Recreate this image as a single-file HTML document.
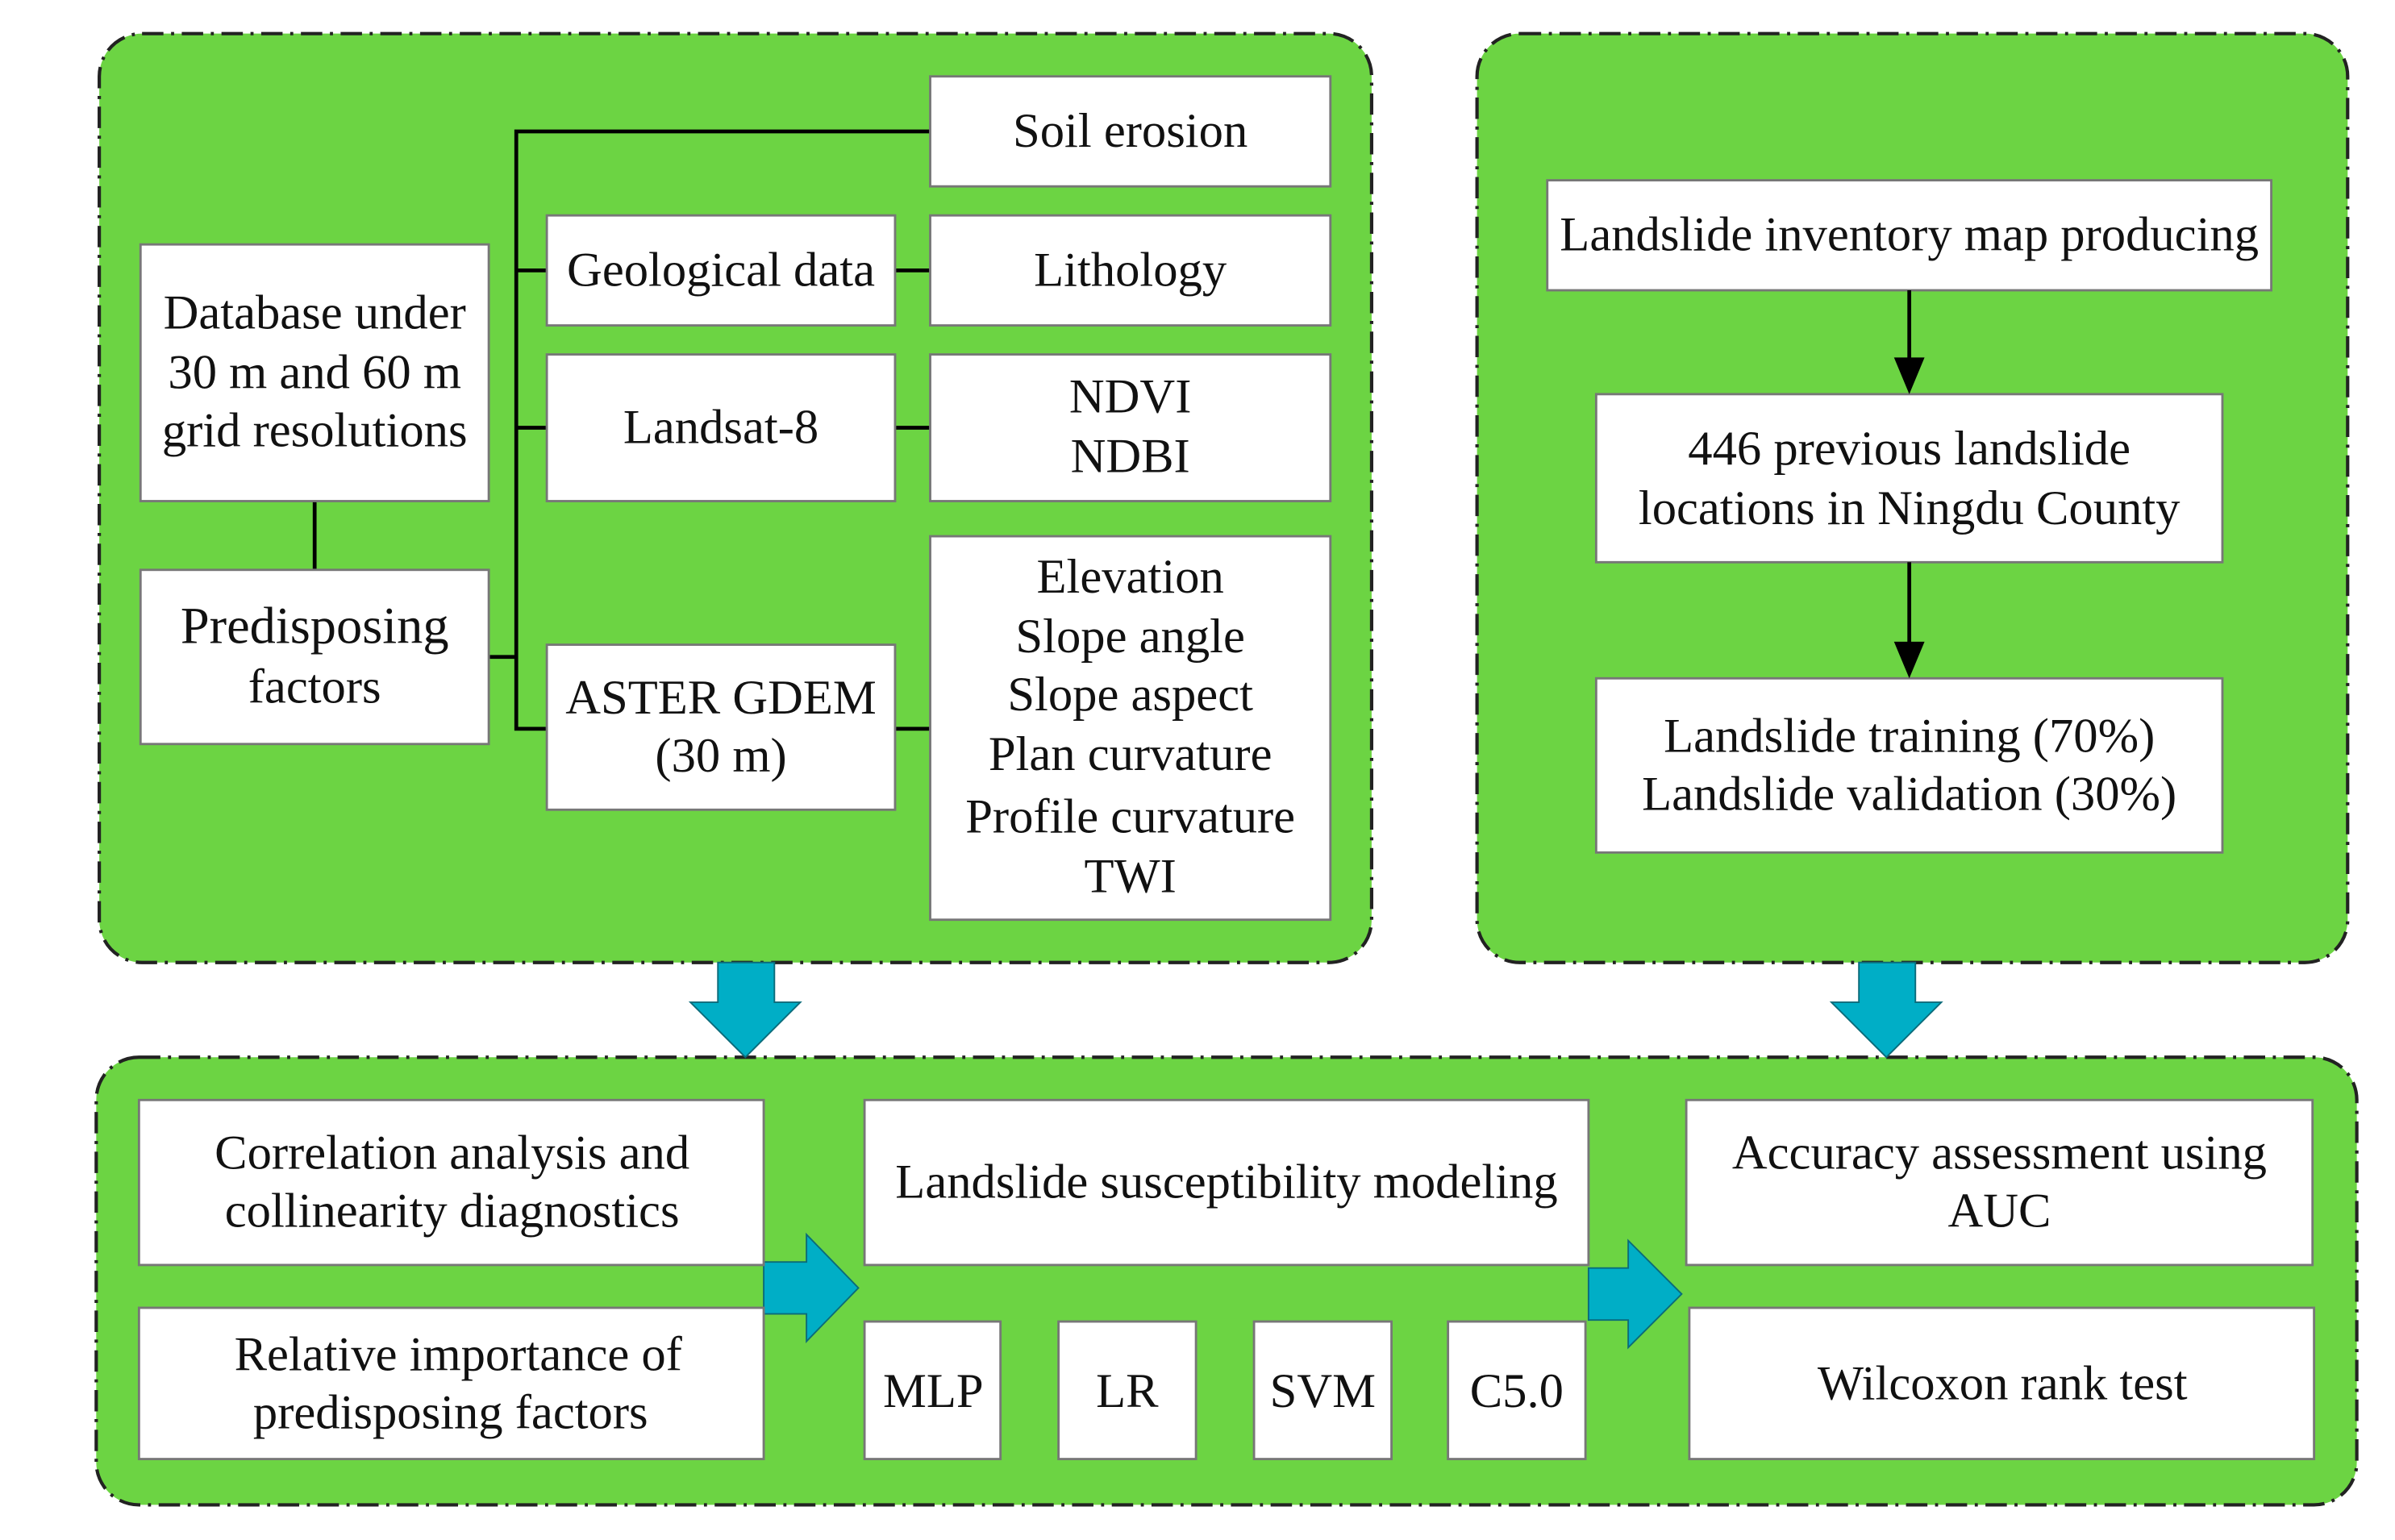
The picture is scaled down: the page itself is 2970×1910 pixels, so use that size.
<!DOCTYPE html>
<html><head><meta charset="utf-8"><style>
html,body{margin:0;padding:0;background:#fff;}
svg{display:block;}
text{font-family:"Liberation Serif",serif;font-size:32px;fill:#111;text-anchor:middle;}
</style></head><body>
<svg width="2970" height="1910" viewBox="0 0 1568 1008" preserveAspectRatio="none" xmlns="http://www.w3.org/2000/svg">
<g fill="#6cd443" stroke="#222" stroke-width="2.2" stroke-dasharray="14,5,2,5">
<rect x="65" y="22" width="833" height="608" rx="28"/>
<rect x="967" y="22" width="570" height="608" rx="28"/>
<rect x="63" y="692" width="1480" height="293" rx="28"/>
</g>
<g fill="#00aec6" stroke="#0b6b7a" stroke-width="1">
<polygon points="470,630 507,630 507,656 524,656 488,692 452,656 470,656"/>
<polygon points="1217,630 1254,630 1254,656 1271,656 1235,692 1199,656 1217,656"/>
<polygon points="500,826 528,826 528,808 562,843 528,878 528,860 500,860"/>
<polygon points="1040,830 1066,830 1066,812 1101,847 1066,882 1066,864 1040,864"/>
</g>
<g stroke="#000" stroke-width="2.5" fill="none">
<path d="M609,86 H338 V477 H358 M338,177 H358 M338,280 H358 M320,430 H338 M206,328 V373 M586,177 H609 M586,280 H609 M586,477 H609"/>
</g>
<g fill="#fff" stroke="#777" stroke-width="1.5">
<rect x="609" y="50" width="262" height="72"/>
<rect x="358" y="141" width="228" height="72"/>
<rect x="609" y="141" width="262" height="72"/>
<rect x="358" y="232" width="228" height="96"/>
<rect x="609" y="232" width="262" height="96"/>
<rect x="358" y="422" width="228" height="108"/>
<rect x="609" y="351" width="262" height="251"/>
<rect x="92" y="160" width="228" height="168"/>
<rect x="92" y="373" width="228" height="114"/>
<rect x="1013" y="118" width="474" height="72"/>
<rect x="1045" y="258" width="410" height="110"/>
<rect x="1045" y="444" width="410" height="114"/>
<rect x="91" y="720" width="409" height="108"/>
<rect x="91" y="856" width="409" height="99"/>
<rect x="566" y="720" width="474" height="108"/>
<rect x="566" y="865" width="89" height="90"/>
<rect x="693" y="865" width="90" height="90"/>
<rect x="821" y="865" width="90" height="90"/>
<rect x="948" y="865" width="90" height="90"/>
<rect x="1104" y="720" width="410" height="108"/>
<rect x="1106" y="856" width="409" height="99"/>
</g>
<g stroke="#000" stroke-width="2.5">
<line x1="1250" y1="190" x2="1250" y2="240"/>
<line x1="1250" y1="368" x2="1250" y2="426"/>
</g>
<polygon points="1240,234 1260,234 1250,258" fill="#000"/>
<polygon points="1240,420 1260,420 1250,444" fill="#000"/>
<text x="740" y="96">Soil erosion</text>
<text x="472" y="187">Geological data</text>
<text x="740" y="187">Lithology</text>
<text x="472" y="290">Landsat-8</text>
<text x="740" y="270">NDVI</text>
<text x="740" y="309">NDBI</text>
<text x="472" y="467">ASTER GDEM</text>
<text x="472" y="505">(30 m)</text>
<text x="740" y="388">Elevation</text>
<text x="740" y="427">Slope angle</text>
<text x="740" y="465">Slope aspect</text>
<text x="740" y="504">Plan curvature</text>
<text x="740" y="545">Profile curvature</text>
<text x="740" y="584">TWI</text>
<text x="206" y="215">Database under</text>
<text x="206" y="254">30 m and 60 m</text>
<text x="206" y="292">grid resolutions</text>
<text x="206" y="421" style="font-size:34px">Predisposing</text>
<text x="206" y="460">factors</text>
<text x="1250" y="164">Landslide inventory map producing</text>
<text x="1250" y="304">446 previous landslide</text>
<text x="1250" y="343">locations in Ningdu County</text>
<text x="1250" y="492">Landslide training (70%)</text>
<text x="1250" y="530">Landslide validation (30%)</text>
<text x="296" y="765">Correlation analysis and</text>
<text x="296" y="803">collinearity diagnostics</text>
<text x="300" y="897">Relative importance of</text>
<text x="295" y="935">predisposing factors</text>
<text x="803" y="784">Landslide susceptibility modeling</text>
<text x="611" y="921">MLP</text>
<text x="738" y="921">LR</text>
<text x="866" y="921">SVM</text>
<text x="993" y="921">C5.0</text>
<text x="1309" y="765">Accuracy assessment using</text>
<text x="1309" y="803">AUC</text>
<text x="1311" y="916">Wilcoxon rank test</text>
</svg>
</body></html>
